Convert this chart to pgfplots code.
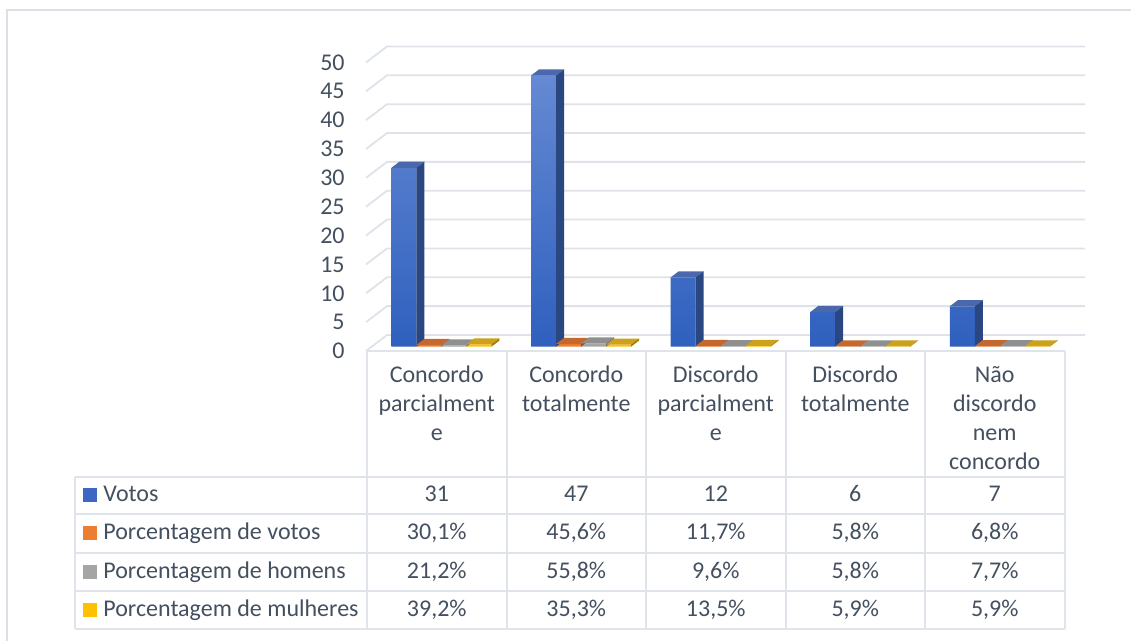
\documentclass[border=0pt]{standalone}
\usepackage{fontspec}
\setmainfont{Carlito}
\usepackage{pgfplots}
\usepackage{pgfplotstable}
\pgfplotsset{compat=1.18}

\definecolor{txt}{HTML}{44505F}
\definecolor{gridc}{HTML}{DEE2E9}
\definecolor{tabc}{HTML}{DFE3EA}
\definecolor{bordc}{HTML}{DCDFE5}
\definecolor{blueA}{HTML}{6589D3}
\definecolor{blueB}{HTML}{2F60BE}
\definecolor{blueTop}{HTML}{4B68AC}
\definecolor{blueSide}{HTML}{2A4782}
\definecolor{orF}{HTML}{ED7D31}
\definecolor{orTop}{HTML}{C4682E}
\definecolor{orSide}{HTML}{9E5020}
\definecolor{grF}{HTML}{A5A5A5}
\definecolor{grTop}{HTML}{8F8F8F}
\definecolor{grSide}{HTML}{707070}
\definecolor{yeF}{HTML}{FFC000}
\definecolor{yeTop}{HTML}{CDA11C}
\definecolor{yeSide}{HTML}{A07C00}

\pgfplotstableread{
x votos pvotos phomens pmulheres
0 31 0.301 0.212 0.392
1 47 0.456 0.558 0.353
2 12 0.117 0.096 0.135
3 6 0.058 0.058 0.059
4 7 0.068 0.077 0.059
}\datatable

% top and side faces of a bar, drawn at the top-front point of the bar
% #1 name, #2 left edge (pt, from category centre), #3 side colour, #4 top colour
\newcommand\barmark[4]{%
  \pgfdeclareplotmark{#1}{%
    \pgfmathsetmacro\hh{\barval*2.885}%
    \pgfsetfillcolor{#4}%
    \pgfpathmoveto{\pgfpoint{#2pt}{0pt}}%
    \pgfpathlineto{\pgfpoint{#2pt+4pt}{3.05pt}}%
    \pgfpathlineto{\pgfpoint{#2pt+16.5pt}{3.05pt}}%
    \pgfpathlineto{\pgfpoint{#2pt+12.5pt}{0pt}}%
    \pgfpathclose\pgfusepath{fill}%
    \pgfsetfillcolor{#3}%
    \pgfpathmoveto{\pgfpoint{#2pt+12.5pt}{0pt}}%
    \pgfpathlineto{\pgfpoint{#2pt+16.5pt}{3.05pt}}%
    \pgfpathlineto{\pgfpoint{#2pt+16.5pt}{3.05pt-\hh pt}}%
    \pgfpathlineto{\pgfpoint{#2pt+12.5pt}{-\hh pt}}%
    \pgfpathclose\pgfusepath{fill}%
  }}
\barmark{b3d}{-25}{blueSide}{blueTop}
\barmark{o3d}{-12.5}{orSide}{orTop}
\barmark{g3d}{0}{grSide}{grTop}
\barmark{y3d}{12.5}{yeSide}{yeTop}

\newcommand\fnt{\fontsize{12}{14.65}\selectfont}

\begin{document}
\begin{tikzpicture}[every node/.style={font=\fnt, text=txt}]
\begin{scope}[x=0.5pt,y=-0.5pt]
\path[use as bounding box] (0,0) rectangle (1131,641);
\draw[bordc, line width=0.75pt] (7,641) -- (7,10) -- (1131,10);
% data table
\draw[tabc, line width=1pt] (367,351) -- (1064.5,351);
\foreach \x in {367,506.5,646,785.5,925,1064.5}
  \draw[tabc, line width=1pt] (\x,351) -- (\x,629.3);
\foreach \y in {476.7,514.3,552.7,591,629.3}
  \draw[tabc, line width=1pt] (75,\y) -- (1064.5,\y);
\draw[tabc, line width=1pt] (75,476.7) -- (75,629.3);
% category names
\node[anchor=base] at (436.75,382.5) {Concordo};
\node[anchor=base] at (436.75,412) {parcialment};
\node[anchor=base] at (436.75,441) {e};
\node[anchor=base] at (576.25,382.5) {Concordo};
\node[anchor=base] at (576.25,412) {totalmente};
\node[anchor=base] at (715.75,382.5) {Discordo};
\node[anchor=base] at (715.75,412) {parcialment};
\node[anchor=base] at (715.75,441) {e};
\node[anchor=base] at (855.25,382.5) {Discordo};
\node[anchor=base] at (855.25,412) {totalmente};
\node[anchor=base] at (994.75,382.5) {Não};
\node[anchor=base] at (994.75,412) {discordo};
\node[anchor=base] at (994.75,441) {nem};
\node[anchor=base] at (994.75,470) {concordo};
% row heads
\fill[blueB!80!blueA] (83,488.5) rectangle (97,502.5);
\fill[orF] (83,526.5) rectangle (97,540.5);
\fill[grF] (83,565) rectangle (97,579);
\fill[yeF] (83,603) rectangle (97,617);
\node[anchor=base west, inner sep=0pt] at (103,502) {Votos};
\node[anchor=base west, inner sep=0pt] at (103,540) {Porcentagem de votos};
\node[anchor=base west, inner sep=0pt] at (103,578.3) {Porcentagem de homens};
\node[anchor=base west, inner sep=0pt] at (103,616.6) {Porcentagem de mulheres};
% values
\foreach \c/\a/\b/\h [count=\i from 0] in {
    31/{30,1\%}/{21,2\%}/{39,2\%},
    47/{45,6\%}/{55,8\%}/{35,3\%},
    12/{11,7\%}/{9,6\%}/{13,5\%},
    6/{5,8\%}/{5,8\%}/{5,9\%},
    7/{6,8\%}/{7,7\%}/{5,9\%}}{
  \pgfmathsetmacro\cx{436.75+139.5*\i}
  \node[anchor=base] at (\cx,502) {\c};
  \node[anchor=base] at (\cx,540) {\a};
  \node[anchor=base] at (\cx,578.3) {\b};
  \node[anchor=base] at (\cx,616.6) {\h};
}
\end{scope}

\begin{axis}[
  at={(185.8pt,-173.35pt)}, anchor=south west,
  scale only axis, width=349pt, height=144.25pt,
  xmin=-0.5, xmax=4.5, ymin=0, ymax=50,
  clip=false,
  axis line style={draw=none},
  major tick length=0pt,
  xtick=\empty,
  ytick={0,5,...,50},
  /pgf/number format/assume math mode=true,
  yticklabel style={font=\fnt, text=txt, anchor=east, inner sep=0pt,
    xshift=-13.3pt, yshift=-2.15pt},
]
% side wall and back wall grid
\pgfplotsinvokeforeach{0,5,10,15,20,25,30,35,40,45,50}{
  \draw[gridc, line width=0.9pt]
    ([shift={(-2.8pt,-2.15pt)}]axis cs:-0.5,#1) --
    ([shift={(7.7pt,5.85pt)}]axis cs:-0.5,#1) --
    ([shift={(7.7pt,5.85pt)}]axis cs:4.5,#1);
}
% Votos
\addplot[ybar, bar width=12.5pt, bar shift=-18.75pt, draw=none,
  top color=blueA, bottom color=blueB] table[x=x,y=votos]{\datatable};
\addplot[only marks, mark=b3d, visualization depends on={\thisrow{votos} \as \barval}]
  table[x=x,y=votos]{\datatable};
% Porcentagem de votos
\addplot[ybar, bar width=12.5pt, bar shift=-6.25pt, draw=none, fill=orF]
  table[x=x,y=pvotos]{\datatable};
\addplot[only marks, mark=o3d, visualization depends on={\thisrow{pvotos} \as \barval}]
  table[x=x,y=pvotos]{\datatable};
% Porcentagem de homens
\addplot[ybar, bar width=12.5pt, bar shift=6.25pt, draw=none, fill=grF]
  table[x=x,y=phomens]{\datatable};
\addplot[only marks, mark=g3d, visualization depends on={\thisrow{phomens} \as \barval}]
  table[x=x,y=phomens]{\datatable};
% Porcentagem de mulheres
\addplot[ybar, bar width=12.5pt, bar shift=18.75pt, draw=none, fill=yeF]
  table[x=x,y=pmulheres]{\datatable};
\addplot[only marks, mark=y3d, visualization depends on={\thisrow{pmulheres} \as \barval}]
  table[x=x,y=pmulheres]{\datatable};
\end{axis}
\end{tikzpicture}
\end{document}
